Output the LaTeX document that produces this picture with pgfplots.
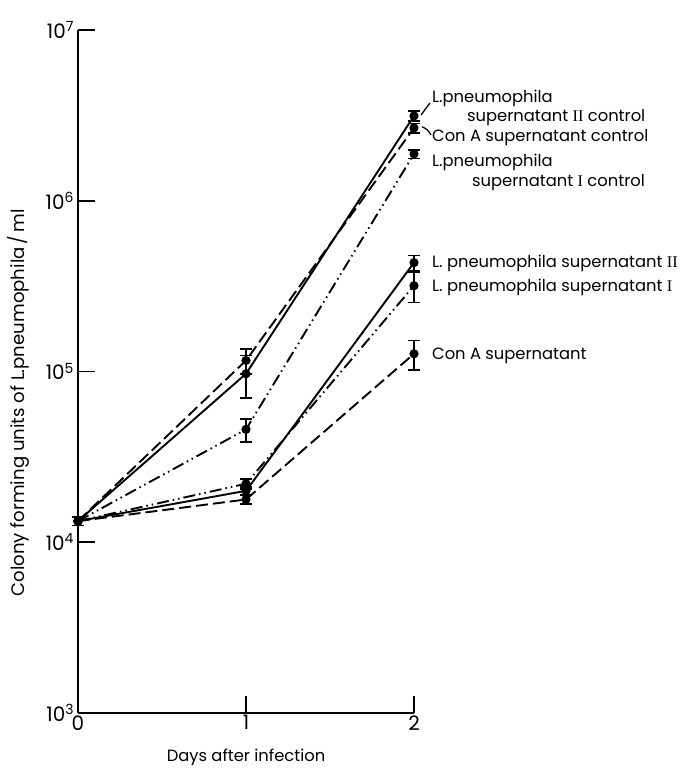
\documentclass[border=0pt]{standalone}
\usepackage{fontspec}
\setmainfont{Poppins}
\newfontfamily\rom{Liberation Serif}
\usepackage{pgfplots}
\pgfplotsset{compat=1.18}
\newcommand\dec[1]{10\raisebox{0.6ex}{\fontsize{14}{14}\selectfont #1}}
\newcommand\lbl{\fontsize{16.4}{18}\selectfont}

\pgfplotsset{
  solidl/.style={black, line width=1.9bp, mark=*, mark size=3.6bp, mark options={solid},
    error bars/y dir=both, error bars/y explicit,
    error bars/error bar style={line width=1.6bp, solid},
    error bars/error mark options={rotate=90, line width=1.6bp, mark size=6bp, solid}},
  dashl/.style={solidl, dash pattern=on 12bp off 5bp},
  ddotl/.style={solidl, dash pattern=on 12bp off 4bp on 1.5bp off 4bp on 1.5bp off 4bp},
}

\begin{document}
\begin{tikzpicture}
\begin{semilogyaxis}[
  scale only axis, width=336bp, height=683bp,
  xmin=0, xmax=2, ymin=1e3, ymax=1e7,
  axis x line=bottom, axis y line=left,
  axis line style={-, line width=1.7bp},
  tick style={line width=1.7bp, black},
  major tick length=17bp, tick align=inside,
  xtick={0,1,2}, ytick={1e3,1e4,1e5,1e6,1e7},
  yticklabels={\dec3,\dec4,\dec5,\dec6,\dec7},
  yminorticks=false,
  /pgf/number format/assume math mode=true,
  tick label style={font=\fontsize{20}{22}\selectfont},
  yticklabel style={xshift=-1bp},
  xticklabel style={yshift=1bp},
  xlabel={Days after infection},
  xlabel style={font=\lbl, at={(axis description cs:0.5,0)}, anchor=center, yshift=-44bp},
  ylabel={Colony forming units of L.pneumophila\,/\,ml},
  ylabel style={font=\fontsize{18.2}{20}\selectfont, at={(axis description cs:-0.177,0.454)}, anchor=center},
  clip=false,
]
% L. pneumophila supernatant II control
\addplot[solidl] coordinates {(0,1.33e4) +- (0,0.08e4) (1,9.7e4) +- (0,2.7e4) (2,3.14e6) +- (0,0.22e6)};
% Con A supernatant control
\addplot[dashl] coordinates {(0,1.33e4) +- (0,0.08e4) (1,1.16e5) +- (0,0.19e5) (2,2.67e6) +- (0,0.17e6)};
% L. pneumophila supernatant I control
\addplot[ddotl] coordinates {(0,1.33e4) +- (0,0.08e4) (1,4.58e4) +- (0,0.7e4) (2,1.88e6) +- (0,0.11e6)};
% L. pneumophila supernatant II
\addplot[solidl] coordinates {(0,1.33e4) +- (0,0.08e4) (1,2.0e4) +- (0,0.1e4) (2,4.34e5) +- (0,0.45e5)};
% L. pneumophila supernatant I
\addplot[ddotl] coordinates {(0,1.33e4) +- (0,0.08e4) (1,2.2e4) +- (0,0.15e4) (2,3.18e5) +- (0,0.64e5)};
% Con A supernatant
\addplot[dashl] coordinates {(0,1.33e4) +- (0,0.08e4) (1,1.78e4) +- (0,0.1e4) (2,1.27e5) +- (0,0.25e5)};

% leaders
\draw[line width=1.3bp] (axis cs:2.042,3.18e6) -- (axis cs:2.095,3.74e6);
\draw[line width=1.3bp] (axis cs:2.048,2.71e6) to[bend left=20] (axis cs:2.101,2.43e6);

% labels
\begin{scope}[every node/.style={font=\lbl, anchor=west, inner sep=0pt}]
\node at (axis cs:2.107,4.0e6) {L.pneumophila};
\node at (axis cs:2.315,3.05e6) {supernatant {\rom II} control};
\node at (axis cs:2.107,2.33e6) {Con A supernatant control};
\node at (axis cs:2.107,1.67e6) {L.pneumophila};
\node at (axis cs:2.345,1.27e6) {supernatant {\rom I} control};
\node at (axis cs:2.107,4.28e5) {L. pneumophila supernatant {\rom II}};
\node at (axis cs:2.107,3.1e5) {L. pneumophila supernatant {\rom I}};
\node at (axis cs:2.107,1.24e5) {Con A supernatant};
\end{scope}
\end{semilogyaxis}
\pgfresetboundingbox
\path[use as bounding box] ([shift={(-78bp,-57bp)}]current axis.south west) rectangle ([shift={(268bp,30bp)}]current axis.north east);
\end{tikzpicture}
\end{document}
